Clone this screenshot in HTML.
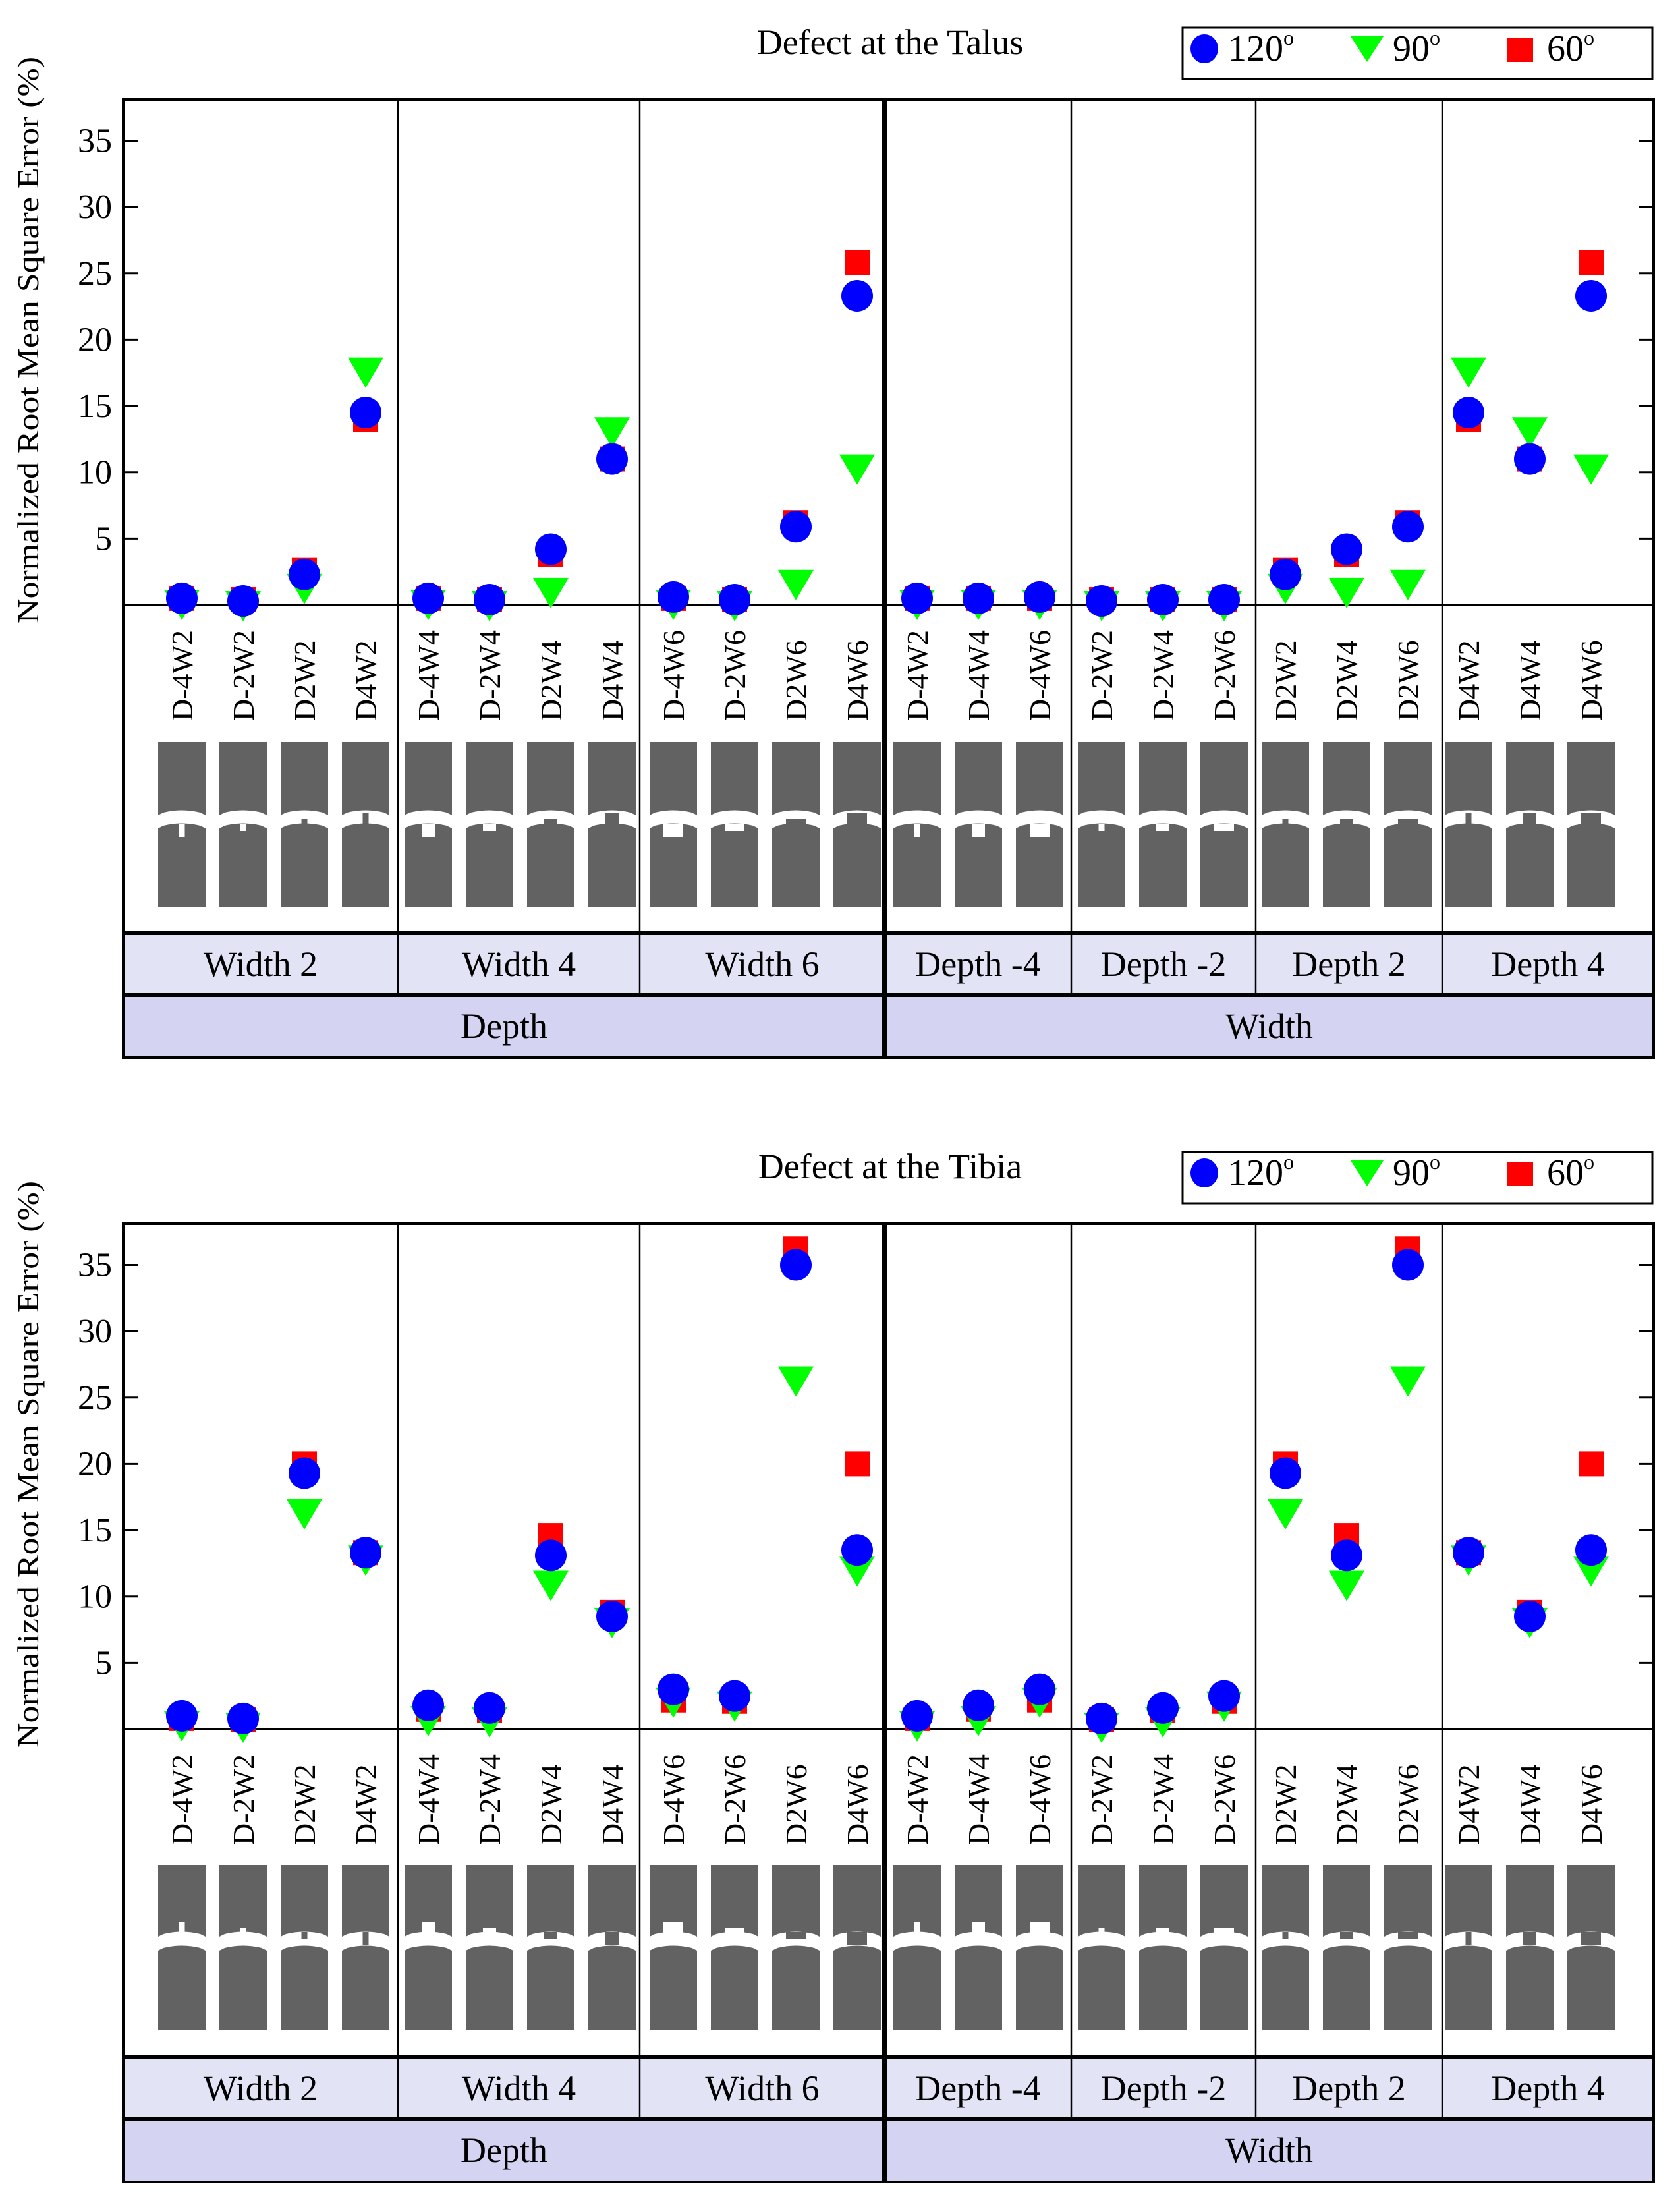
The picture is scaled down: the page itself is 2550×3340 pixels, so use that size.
<!DOCTYPE html>
<html><head><meta charset="utf-8">
<style>
html,body{margin:0;padding:0;background:#fff;}
svg, svg text{font-family:"Liberation Serif","Times New Roman",serif;}
</style></head>
<body>
<svg id="chart" xmlns="http://www.w3.org/2000/svg" width="2550" height="3335" viewBox="0 0 2550 3335" font-family="Liberation Serif, serif"></svg>
<script>
// ---- data ----
const categories = ["D-4W2","D-2W2","D2W2","D4W2","D-4W4","D-2W4","D2W4","D4W4","D-4W6","D-2W6","D2W6","D4W6"];
const widthSectionOrder = ["D-4W2","D-4W4","D-4W6","D-2W2","D-2W4","D-2W6","D2W2","D2W4","D2W6","D4W2","D4W4","D4W6"];
const depthGroupLabels = ["Width 2","Width 4","Width 6"];
const widthGroupLabels = ["Depth -4","Depth -2","Depth 2","Depth 4"];
const yTicks = [5,10,15,20,25,30,35];
const seriesLabels = ["120","90","60"];
// Talus
const talus120 = [0.5,0.3,2.3,14.5, 0.5,0.4,4.2,11.0, 0.6,0.4,5.9,23.3];
const talus90  = [0.3,0.2,1.5,17.8, 0.3,0.2,1.2,13.3, 0.3,0.2,1.8,10.5];
const talus60  = [0.5,0.4,2.6,14.0, 0.5,0.4,3.8,11.0, 0.5,0.4,6.2,25.8];
// Tibia
const tibia120 = [1.0,0.8,19.3,13.3, 1.8,1.6,13.1,8.5, 3.0,2.5,35.0,13.5];
const tibia90  = [0.5,0.4,16.5,13.0, 0.9,0.8,11.1,8.3, 2.3,2.0,26.5,12.2];
const tibia60  = [0.8,0.7,20.0,13.3, 1.5,1.4,14.6,8.8, 2.2,2.1,36.2,20.0];

// ---- layout ----
const NS="http://www.w3.org/2000/svg";
const svg=document.getElementById('chart');
const FONT='"Liberation Serif", serif';
const L=187,R=2510,MID=1343;
const depthGroups=[[187,604,89],[604,971,46],[971,1343,51]];
const widthGroups=[[1343,1626,49],[1626,1906,46],[1906,2189,45],[2189,2510,40]];
const STEP=93;
function mk(tag,attrs,parent){const e=document.createElementNS(NS,tag);for(const k in attrs)e.setAttribute(k,attrs[k]);if(tag==='text')e.setAttribute('font-family',FONT);(parent||svg).appendChild(e);return e;}

function drawPanel(oy, title, s120, s90, s60, tibia){
  const g=mk('g',{});
  
  
  const top=151+oy, zero=918+oy, cellBot=1416+oy, grpBot=1510+oy, bot=1605+oy;
  const ppu=20.13;
  const y=v=>zero-v*ppu;
  const t=mk('text',{x:1351,y:82+oy,'font-size':54,'text-anchor':'middle',fill:'#000'},g);
  t.textContent=title;
  
  
  const lg=mk('g',{},g);
  
  
  mk('rect',{x:1795,y:42+oy,width:713,height:78,fill:'#fff',stroke:'#000','stroke-width':3},lg);
  const c=mk('ellipse',{cx:1828,cy:74+oy,rx:21,ry:22,fill:'#0000ff'},lg);
  
  
  const tr=mk('polygon',{points:`2050,${55+oy} 2100,${55+oy} 2075,${94+oy}`,fill:'#00ff00'},lg);
  
  
  const sq=mk('rect',{x:2288,y:57+oy,width:39,height:37,fill:'#ff0000'},lg);
  
  
  [[1864,0],[2114,1],[2348,2]].forEach(([x,i])=>{
    const lt=mk('text',{x:x,y:92+oy,'font-size':56,fill:'#000'},lg);
    lt.innerHTML=seriesLabels[i]+'<tspan font-size="32" dy="-24">o</tspan>';
    
    
  });
  mk('rect',{x:L,y:cellBot,width:R-L,height:grpBot-cellBot,fill:'#e3e3f6'},g);
  mk('rect',{x:L,y:grpBot,width:R-L,height:bot-grpBot,fill:'#d4d4f2'},g);
  const yt=mk('text',{x:0,y:0,'font-size':46,'text-anchor':'middle',transform:`translate(58,${516+oy}) rotate(-90)`,textLength:860,lengthAdjust:'spacingAndGlyphs',fill:'#000'},g);
  yt.textContent='Normalized Root Mean Square Error (%)';
  
  
  yTicks.forEach(v=>{
    const tl=mk('text',{x:170,y:y(v)+17,'font-size':52,'text-anchor':'end',fill:'#000'},g);
    tl.textContent=String(v);
    
    
    mk('line',{x1:L,x2:L+22,y1:y(v),y2:y(v),stroke:'#000','stroke-width':3},g);
    mk('line',{x1:R-22,x2:R,y1:y(v),y2:y(v),stroke:'#000','stroke-width':3},g);
  });
  const allGroups=depthGroups.concat(widthGroups);
  allGroups.forEach(gr=>{ if(gr[0]!==L && gr[0]!==MID) mk('line',{x1:gr[0],x2:gr[0],y1:top,y2:grpBot,stroke:'#000','stroke-width':2.5},g);});
  const cols=[];
  depthGroups.forEach((gr,gi)=>{for(let i=0;i<4;i++)cols.push({x:gr[0]+gr[2]+i*STEP,cat:categories[gi*4+i]});});
  widthGroups.forEach((gr,gi)=>{for(let i=0;i<3;i++)cols.push({x:gr[0]+gr[2]+i*STEP,cat:widthSectionOrder[gi*3+i]});});
  cols.forEach(col=>{
    const ct=mk('text',{x:0,y:0,'font-size':46,transform:`translate(${col.x+16},${1094+oy}) rotate(-90)`,fill:'#000'},g);
    ct.textContent=col.cat;
    
    
    drawIcon(g,col.x,oy,col.cat,tibia);
  });
  depthGroups.forEach((gr,i)=>label(g,(gr[0]+gr[1])/2,cellBot+65,depthGroupLabels[i],'group-label'));
  widthGroups.forEach((gr,i)=>label(g,(gr[0]+gr[1])/2,cellBot+65,widthGroupLabels[i],'group-label'));
  label(g,(L+MID)/2,grpBot+65,'Depth','section-label-depth');
  label(g,(MID+R)/2,grpBot+65,'Width','section-label-width');
  mk('rect',{x:L,y:top,width:R-L,height:bot-top,fill:'none',stroke:'#000','stroke-width':4},g);
  mk('line',{x1:L,x2:R,y1:zero,y2:zero,stroke:'#000','stroke-width':4},g);
  mk('line',{x1:L,x2:R,y1:cellBot,y2:cellBot,stroke:'#000','stroke-width':6},g);
  mk('line',{x1:L,x2:R,y1:grpBot,y2:grpBot,stroke:'#000','stroke-width':6},g);
  mk('line',{x1:MID,x2:MID,y1:top,y2:bot,stroke:'#000','stroke-width':8},g);
  cols.forEach(col=>{
    const idx=categories.indexOf(col.cat);
    const v60=s60[idx], v90=s90[idx], v120=s120[idx];
    const s=mk('rect',{x:col.x-19,y:y(v60)-19,width:38,height:38,fill:'#ff0000'},g);
    
    
    const yy=y(v90);
    const p=mk('polygon',{points:`${col.x-27},${yy-17} ${col.x+27},${yy-17} ${col.x},${yy+29}`,fill:'#00ff00'},g);
    
    
    const ci=mk('circle',{cx:col.x,cy:y(v120),r:24,fill:'#0000ff'},g);
    
    
  });
}
function label(g,x,yy,txt,name){
  const t=mk('text',{x:x,y:yy,'font-size':54,'text-anchor':'middle',fill:'#000'},g);
  t.textContent=txt;
  
  
}
function drawIcon(g,cx,oy,cat,tibia){
  const m=cat.match(/D(-?\d)W(\d)/);const D=+m[1],W=+m[2];
  const x0=cx-36,x1=cx+36,gray='#626262';
  const dw={2:9,4:20,6:30}[W], dd=Math.abs(D)*4.5;
  const ic=mk('g',{},g);
  
  
  const uTop=(tibia?1124:1126)+oy, uBot=(tibia?1233:1237)+oy, lTop=(tibia?1254:1257)+oy, lBot=(tibia?1374:1377)+oy;
  mk('path',{d:`M${x0},${uTop} L${x1},${uTop} L${x1},${uBot} L${x1-8},${uBot-4} Q${cx},${uBot-11} ${x0+8},${uBot-4} L${x0},${uBot} Z`,fill:gray},ic);
  mk('path',{d:`M${x0},${lBot} L${x1},${lBot} L${x1},${lTop} L${x1-8},${lTop-4} Q${cx},${lTop-11} ${x0+8},${lTop-4} L${x0},${lTop} Z`,fill:gray},ic);
  if(!tibia){
    const base=lTop-5;
    if(D<0) mk('rect',{x:cx-dw/2,y:base-2,width:dw,height:dd+2,fill:'#fff'},ic);
    else mk('rect',{x:cx-dw/2,y:base-dd,width:dw,height:dd+2,fill:gray},ic);
  } else {
    const base=uBot-5;
    if(D<0) mk('rect',{x:cx-dw/2,y:base-dd,width:dw,height:dd+8,fill:'#fff'},ic);
    else mk('rect',{x:cx-dw/2,y:base-2,width:dw,height:dd+2,fill:gray},ic);
  }
}
const bg=mk('rect',{x:0,y:0,width:2550,height:3335,fill:'#fff'});


drawPanel(0,'Defect at the Talus',talus120,talus90,talus60,false);
drawPanel(1706,'Defect at the Tibia',tibia120,tibia90,tibia60,true);
</script>
</body></html>
